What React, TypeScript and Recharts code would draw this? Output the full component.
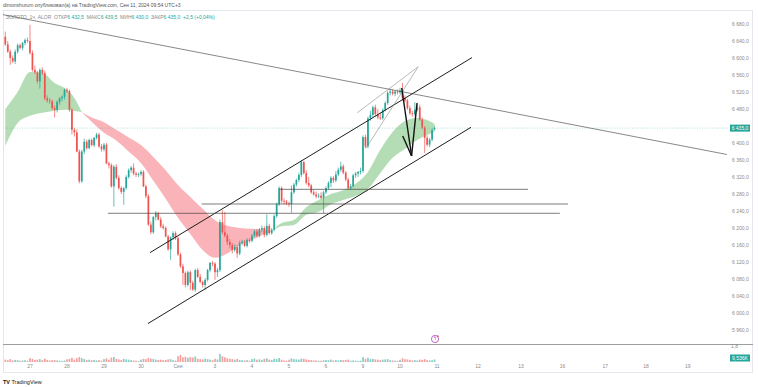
import React from "react";
import { ComposedChart, Bar, Area, XAxis, YAxis, ReferenceLine, ReferenceDot } from "recharts";

const OPEN = [
  6650,6632,6615,6600,6592,6615,6630,6624,6635,6642,
  6640,6612,6572,6566,6545,6572,6565,6505,6500,6498,6482,6478,6497,6505,6509,
  6525,6522,6478,6431,6425,6380,6310,6380,6403,6388,6407,6395,6412,6420,6392,
  6385,6396,6352,6348,6298,6344,6318,6294,6285,6294,6320,6336,6342,6328,6325,
  6327,6332,6298,6275,6208,6190,6226,6235,6220,6204,6200,6180,6150,6178,6188,
  6176,6138,6110,6094,6066,6096,6071,6055,6101,6085,6073,6066,6078,6101,6118,
  6116,6096,6101,6214,6190,6182,6167,6160,6148,6155,6140,6165,6168,6158,6172,
  6170,6182,6192,6182,6196,6200,6184,6205,6188,6196,6228,6256,6294,6264,6262,
  6258,6256,6284,6302,6313,6325,6355,6329,6306,6300,6284,6279,6274,6276,6271,
  6284,6294,6306,6318,6312,6326,6337,6345,6330,6314,6294,6298,6324,6328,6332,
  6334,6414,6392,6458,6466,6484,6468,6460,6458,6478,6494,6518,6521,6516,6521,
  6519,6524,6506,6500,6482,6470,6468,6478,6484,6455,6436,6412,6396,6408,6432.5,
];
const HIGH = [
  6662,6640,6620,6606,6620,6634,6634,6638,6646,6648,
  6678,6618,6582,6570,6576,6578,6570,6512,6506,6502,6488,6500,6508,6512,6528,
  6530,6526,6482,6436,6432,6385,6384,6410,6408,6410,6410,6414,6424,6424,6398,
  6400,6400,6356,6352,6348,6350,6324,6298,6296,6324,6340,6346,6352,6332,6330,
  6336,6336,6302,6280,6215,6228,6240,6238,6226,6210,6204,6184,6180,6192,6192,
  6180,6142,6116,6098,6100,6100,6076,6104,6106,6092,6076,6082,6104,6120,6122,
  6120,6106,6220,6242,6238,6186,6174,6165,6162,6160,6170,6172,6172,6176,6176,
  6186,6196,6198,6200,6206,6204,6232,6210,6200,6232,6260,6298,6298,6270,6266,
  6262,6300,6306,6316,6330,6360,6358,6336,6320,6304,6290,6286,6282,6284,6288,
  6298,6310,6322,6322,6334,6342,6356,6350,6334,6318,6304,6328,6332,6334,6342,
  6418,6420,6462,6476,6488,6490,6480,6472,6482,6498,6522,6528,6526,6524,6526,
  6530,6541,6512,6504,6488,6476,6496,6492,6490,6460,6440,6418,6412,6434,6439.5,
];
const LOW = [
  6628,6612,6584,6588,6586,6610,6620,6618,6630,6636,
  6608,6568,6562,6540,6528,6560,6500,6495,6492,6478,6460,6472,6490,6498,6502,
  6518,6474,6420,6415,6378,6305,6306,6374,6384,6385,6392,6390,6408,6388,6380,
  6380,6350,6340,6295,6250,6314,6290,6280,6255,6290,6316,6330,6324,6320,6320,
  6322,6296,6270,6205,6185,6186,6218,6218,6200,6196,6178,6146,6125,6172,6172,
  6134,6106,6066,6060,6062,6054,6052,6050,6082,6070,6060,6054,6074,6096,6110,
  6078,6085,6096,6186,6178,6160,6152,6140,6144,6130,6136,6160,6155,6154,6165,
  6166,6178,6178,6178,6190,6178,6180,6184,6184,6192,6224,6252,6258,6256,6254,
  6250,6236,6280,6298,6308,6320,6326,6302,6296,6280,6276,6270,6270,6268,6235,
  6280,6290,6296,6306,6308,6322,6332,6326,6310,6290,6290,6296,6318,6320,6326,
  6330,6388,6388,6452,6460,6462,6456,6454,6455,6474,6490,6512,6512,6510,6514,
  6515,6500,6496,6478,6466,6462,6464,6474,6452,6432,6376,6392,6390,6404,6430,
];
const CLOSE = [
  6632,6615,6600,6592,6615,6630,6624,6635,6642,6640,
  6612,6572,6566,6545,6572,6565,6505,6500,6498,6482,6478,6497,6505,6509,6525,
  6522,6478,6431,6425,6380,6310,6380,6403,6388,6407,6395,6412,6420,6392,6385,
  6396,6352,6348,6298,6344,6318,6294,6285,6294,6320,6336,6342,6328,6325,6327,
  6332,6298,6275,6208,6190,6226,6235,6220,6204,6200,6180,6150,6178,6188,6176,
  6138,6110,6094,6066,6096,6071,6055,6101,6085,6073,6066,6078,6101,6118,6116,
  6096,6101,6214,6190,6182,6167,6160,6148,6155,6140,6165,6168,6158,6172,6170,
  6182,6192,6182,6196,6200,6184,6205,6188,6196,6228,6256,6294,6264,6262,6258,
  6256,6284,6302,6313,6325,6355,6329,6306,6300,6284,6279,6274,6276,6271,6284,
  6294,6306,6318,6312,6326,6337,6345,6330,6314,6294,6298,6324,6328,6332,6334,
  6414,6392,6458,6466,6484,6468,6460,6458,6478,6494,6518,6521,6516,6521,6519,
  6524,6506,6500,6482,6470,6468,6478,6484,6455,6436,6412,6396,6408,6430,6435,
];
const VOLUME = [
  9000,7000,11000,6000,8000,7000,5000,6000,7000,5000,
  15000,12000,8000,9000,11000,7000,13000,8000,6000,7000,8000,6000,5000,4000,6000,
  10000,12000,16000,9000,14000,19000,15000,11000,8000,9000,7000,8000,6000,7000,5000,
  11000,14000,9000,17000,19000,12000,10000,8000,12000,10000,9000,7000,6000,5000,4000,
  9000,12000,11000,16000,13000,12000,9000,8000,9000,7000,8000,10000,11000,7000,6000,
  22000,27000,18000,20000,16000,19000,17000,21000,12000,11000,10000,13000,11000,9000,7000,
  12000,10000,31000,22000,18000,14000,12000,11000,9000,12000,8000,7000,6000,7000,5000,
  11000,13000,9000,10000,8000,12000,14000,9000,8000,12000,11000,15000,9000,6000,5000,
  9000,14000,11000,10000,9000,13000,12000,10000,8000,7000,6000,6000,5000,5000,7000,
  8000,7000,9000,6000,7000,6000,8000,7000,8000,9000,5000,6000,5000,4000,5000,
  19000,12000,16000,11000,12000,10000,9000,7000,9000,10000,11000,7000,6000,5000,4000,
  8000,14000,11000,10000,8000,6000,7000,6000,9000,8000,11000,7000,6000,7000,9536,
];

// Moving-average cloud (fast / slow) read at knots
const G1_IDX = [0, 5, 10, 15, 20, 25, 28, 31];
const G1_LO = [6393, 6447, 6464, 6471, 6476, 6478, 6475, 6473];
const G1_HI = [6480, 6520, 6567, 6565, 6541, 6525, 6506, 6473];
const R_IDX = [31, 35, 40, 45, 50, 55, 60, 65, 70, 75, 80, 85, 90, 95, 100, 105, 108];
const R_LO = [6473, 6450, 6424, 6406, 6380, 6353, 6311, 6269, 6224, 6186, 6148, 6130, 6140, 6160, 6172, 6186, 6192];
const R_HI = [6473, 6460, 6449, 6431, 6413, 6395, 6367, 6336, 6301, 6273, 6245, 6218, 6205, 6200, 6198, 6196, 6192];
const G2_IDX = [108, 112, 117, 122, 127, 132, 137, 142, 147, 152, 157, 162, 167, 171, 174];
const G2_LO = [6192, 6204, 6207, 6231, 6238, 6256, 6266, 6275, 6292, 6329, 6365, 6386, 6407, 6419, 6426];
const G2_HI = [6192, 6212, 6219, 6249, 6266, 6280, 6289, 6304, 6332, 6384, 6426, 6452, 6459, 6454, 6445];

// Axis ticks
const PRICE_TICKS = [5960, 6000, 6040, 6080, 6120, 6160, 6200, 6240, 6280, 6320, 6360, 6400, 6480, 6520, 6560, 6600, 6640, 6680];
const DAY_TICKS = [10, 25, 40, 55, 70, 85, 100, 115, 130, 145, 160, 175, 191.6, 209.1, 225.9, 243.2, 259.7, 276.7];
const DAY_LABELS = ["27", "28", "29", "30", "Сен", "3", "4", "5", "6", "9", "10", "11", "12", "13", "16", "17", "18", "19"];

// Drawings in (bar index, price)
const LONG_LINE = [[-0.93, 6702], [292.5, 6373]];
const CHANNEL_UP = [[58.65, 6142], [189.2, 6601]];
const CHANNEL_DN = [[57.8, 5975], [188.8, 6437]];
const LEVELS = [[111.4, 211.9, 6291], [79.6, 228.1, 6256.5], [41.6, 224.8, 6234.6]];
const WEDGE = [[[142.7, 6471.3], [167.4, 6579.5]], [[146.2, 6387.5], [167.4, 6579.5]]];
const V_MARK = [[[160.7, 6529.4], [164.7, 6369.4]], [[161.1, 6416.5], [164.7, 6369.4]], [[164.7, 6369.4], [166.9, 6494]]];
const LAST_PRICE = 6435;
const LAST_VOL = 9536;

const GREEN = "#26a69a";
const RED = "#ef5350";
const FONT = "'Liberation Sans', Arial, sans-serif";

const data: any[] = OPEN.map((o, i) => ({
  i, o, h: HIGH[i], l: LOW[i], c: CLOSE[i], v: VOLUME[i], g1: null, r: null, g2: null,
}));
G1_IDX.forEach((k, j) => { data[k].g1 = [G1_LO[j], G1_HI[j]]; });
R_IDX.forEach((k, j) => { data[k].r = [R_LO[j], R_HI[j]]; });
G2_IDX.forEach((k, j) => { data[k].g2 = [G2_LO[j], G2_HI[j]]; });

const Candle = (props: any) => {
  const { x, y, width, height, payload } = props;
  if (!payload || payload.h == null) return null;
  const { o, h, l, c } = payload;
  const top = Math.min(y, y + height);
  const bot = Math.max(y, y + height);
  const span = h - l || 1;
  const py = (p: number) => top + ((h - p) / span) * (bot - top);
  const cx = x + width / 2;
  const col = c >= o ? GREEN : RED;
  const y1 = py(Math.max(o, c));
  const y2 = py(Math.min(o, c));
  return (
    <g>
      <line x1={cx} x2={cx} y1={top} y2={bot} stroke={col} strokeWidth={0.7} />
      <rect x={cx - 0.85} y={y1} width={1.7} height={Math.max(0.7, y2 - y1)} fill={col} />
    </g>
  );
};

const VolBar = (props: any) => {
  const { x, y, width, height, payload } = props;
  if (!payload) return null;
  const cx = x + width / 2;
  const top = Math.min(y, y + height);
  const hh = Math.abs(height);
  const col = payload.c >= payload.o ? GREEN : RED;
  return <rect x={cx - 0.85} y={top} width={1.7} height={Math.max(0.5, hh)} fill={col} fillOpacity={0.55} />;
};

const Tag = (props: any) => {
  const { viewBox, text, dy } = props;
  if (!viewBox) return null;
  const x = viewBox.x + viewBox.width;
  const y = viewBox.y + (dy || 0);
  return (
    <g>
      <rect x={x + 2} y={y - 3.5} width={20} height={7} fill={GREEN} />
      <text x={x + 12} y={y + 0.2} textAnchor="middle" dominantBaseline="middle" fontSize={5} fill="#fff" fontFamily={FONT}>{text}</text>
    </g>
  );
};

const EventDot = (props: any) => {
  const { cx, cy } = props;
  if (cx == null) return null;
  return (
    <g>
      <circle cx={cx} cy={cy} r={3.6} fill="#fff" stroke="#ab47bc" strokeWidth={0.8} />
      <text x={cx} y={cy + 0.3} textAnchor="middle" dominantBaseline="middle" fontSize={4.5} fill="#ab47bc" fontFamily={FONT}>ϟ</text>
      <circle cx={cx + 2.8} cy={cy - 2.8} r={0.9} fill={RED} />
    </g>
  );
};

const fmtPrice = (v: number) => {
  const th = Math.floor(v / 1000);
  const rest = String(Math.round(v % 1000)).padStart(3, "0");
  return `${th}\u00a0${rest},0`;
};
const fmtDay = (v: number) => {
  const k = DAY_TICKS.indexOf(v);
  return k >= 0 ? DAY_LABELS[k] : "";
};

const seg = (pts: number[][]) => [{ x: pts[0][0], y: pts[0][1] }, { x: pts[1][0], y: pts[1][1] }];

export default function App() {
  const grey = "#8a8a8a";
  return (
    <div style={{ position: "absolute", left: 0, top: 0, width: 758, height: 387, background: "#fff", fontFamily: FONT, overflow: "hidden" }}>
      <div style={{ position: "absolute", left: 3, top: 10, width: 750, height: 363, border: "1px solid #e3e6ec", boxSizing: "border-box" }} />
      <div style={{ position: "absolute", left: 3, top: 344, width: 750, height: 1, background: "#9e9e9e" }} />
      <div style={{ position: "absolute", left: 3, top: 1.5, fontSize: 5, color: "#555", whiteSpace: "nowrap" }}>
        dimonshurum опубликовал(а) на TradingView.com, Сен 11, 2024 09:54 UTC+3
      </div>
      <div style={{ position: "absolute", left: 6, top: 13.5, fontSize: 5, color: grey, whiteSpace: "nowrap" }}>
        ЗОЛОТО, 1ч, ALOR&nbsp; ОТКР<span style={{ color: GREEN }}>6 432,5</span>&nbsp; МАКС<span style={{ color: GREEN }}>6 439,5</span>&nbsp; МИН<span style={{ color: GREEN }}>6 430,0</span>&nbsp; ЗАКР<span style={{ color: GREEN }}>6 435,0</span>&nbsp; <span style={{ color: GREEN }}>+2,5 (+0,04%)</span>
      </div>
      <div style={{ position: "absolute", left: 731, top: 342.5, fontSize: 5, color: grey }}>1,8</div>
      <div style={{ position: "absolute", left: 3, top: 378.5, fontSize: 5.5, color: "#131722", whiteSpace: "nowrap" }}>
        <b>TV</b> TradingView
      </div>
      <div style={{ position: "absolute", left: 0, top: 0 }}>
        <ComposedChart width={758} height={373} data={data} margin={{ top: 10, right: 5, left: 3, bottom: 0 }}>
          <XAxis
            dataKey="i" type="number" domain={[-0.93, 292.96]} allowDataOverflow ticks={DAY_TICKS} interval={0}
            tickFormatter={fmtDay} height={11} tickLine={false} axisLine={false} tickSize={0} tickMargin={2}
            tick={{ fontSize: 5, fill: grey, fontFamily: FONT }}
          />
          <XAxis xAxisId="vx" dataKey="i" type="number" domain={[-0.93, 292.96]} allowDataOverflow hide />
          <YAxis
            yAxisId="p" orientation="right" domain={[5884.7, 6712.94]} allowDataOverflow ticks={PRICE_TICKS} interval={0}
            tickFormatter={fmtPrice} width={25} tickLine={false} axisLine={false} tickSize={0} tickMargin={4}
            tick={{ fontSize: 5, fill: grey, fontFamily: FONT }}
          />
          <YAxis yAxisId="v" domain={[0, 1342000]} hide allowDataOverflow />

          <Area yAxisId="p" dataKey="g1" type="monotone" connectNulls stroke="none" fill="rgba(76,175,80,0.42)" fillOpacity={1} dot={false} activeDot={false} isAnimationActive={false} />
          <Area yAxisId="p" dataKey="r" type="monotone" connectNulls stroke="none" fill="rgba(242,54,69,0.38)" fillOpacity={1} dot={false} activeDot={false} isAnimationActive={false} />
          <Area yAxisId="p" dataKey="g2" type="monotone" connectNulls stroke="none" fill="rgba(76,175,80,0.42)" fillOpacity={1} dot={false} activeDot={false} isAnimationActive={false} />

          <ReferenceLine yAxisId="p" y={LAST_PRICE} stroke={GREEN} strokeOpacity={0.6} strokeWidth={0.6} strokeDasharray="1 1.5" label={<Tag text={"6\u00a0435,0"} />} />

          <Bar xAxisId="vx" yAxisId="v" dataKey="v" shape={<VolBar />} isAnimationActive={false} />
          <Bar yAxisId="p" dataKey={(d: any) => (d.h == null ? null : [d.l, d.h])} shape={<Candle />} isAnimationActive={false} />

          <ReferenceLine yAxisId="p" segment={seg(LONG_LINE)} stroke="#555" strokeWidth={0.7} ifOverflow="visible" />
          <ReferenceLine yAxisId="p" segment={seg(CHANNEL_UP)} stroke="#1e1e1e" strokeWidth={1} ifOverflow="visible" />
          <ReferenceLine yAxisId="p" segment={seg(CHANNEL_DN)} stroke="#1e1e1e" strokeWidth={1} ifOverflow="visible" />
          {LEVELS.map((lv, k) => (
            <ReferenceLine key={"lv" + k} yAxisId="p" segment={[{ x: lv[0], y: lv[2] }, { x: lv[1], y: lv[2] }]} stroke="#444" strokeWidth={0.7} ifOverflow="visible" />
          ))}
          {WEDGE.map((w, k) => (
            <ReferenceLine key={"w" + k} yAxisId="p" segment={seg(w)} stroke="#8a8a8a" strokeWidth={0.6} ifOverflow="visible" />
          ))}
          {V_MARK.map((w, k) => (
            <ReferenceLine key={"v" + k} yAxisId="p" segment={seg(w)} stroke="#111" strokeWidth={1.4} ifOverflow="visible" />
          ))}
          <ReferenceLine xAxisId="vx" yAxisId="v" y={LAST_VOL} stroke="none" label={<Tag text="9,536K" dy={-1.5} />} ifOverflow="visible" />
          <ReferenceDot yAxisId="p" x={174.2} y={5938.8} r={3.6} shape={<EventDot />} ifOverflow="visible" />
        </ComposedChart>
      </div>
    </div>
  );
}
